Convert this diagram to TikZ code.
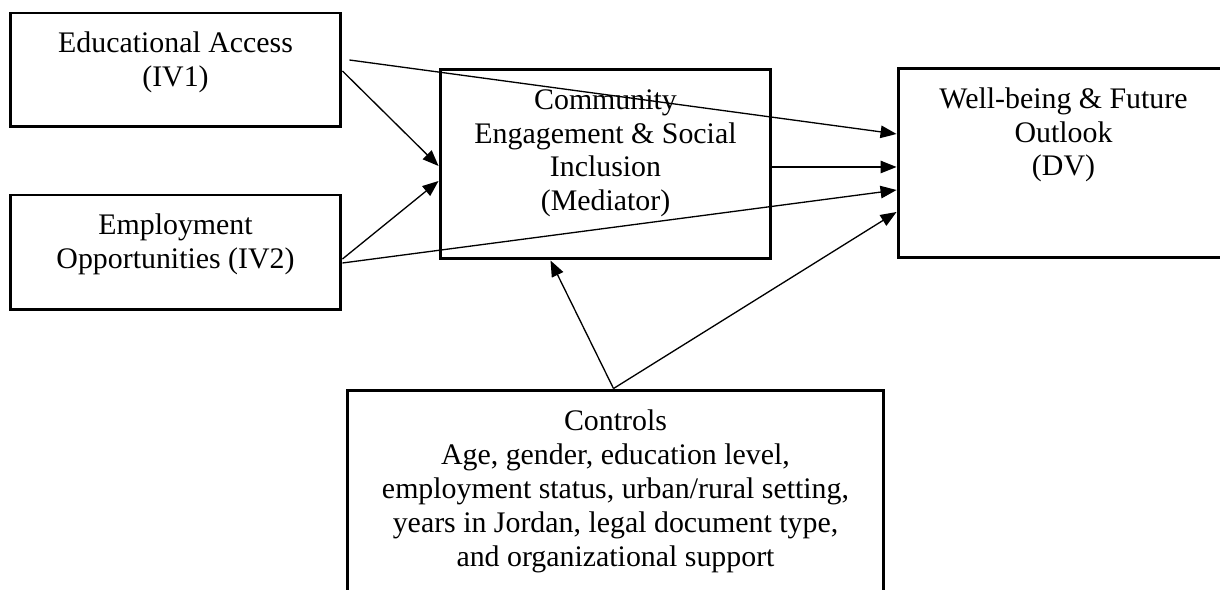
\documentclass[tikz,border=0pt]{standalone}
\usepackage{fontspec}
\setmainfont{Liberation Serif}
\usetikzlibrary{arrows.meta}
\tikzset{
    block/.style = { draw, line width=1.7pt, inner sep=0pt, font=\fontsize{17}{19.35}\selectfont },
    link/.style = { line width=0.75pt, -{Triangle[length=0.32cm, width=0.25cm]} }
}
% text sits at the top of each box, first baseline 0.8cm below the border
\newcommand{\blocktext}[3]{\parbox[c][#2][t]{#1}{\centering\rule{0pt}{0.8cm}#3}}

\begin{document}
\begin{tikzpicture}[
    x = 0.02cm, y = -0.02cm,
    block/.style = { draw, line width=1.7pt, inner sep=0pt, font=\fontsize{17}{19.35}\selectfont },
    link/.style = { line width=0.75pt, -{Triangle[length=0.32cm, width=0.25cm]} }
    ]
    %%% Units are pixels of the 1220 x 590 page, y running down.
    \useasboundingbox (0,0) rectangle (1220,590);

    %%%
    %%% Boxes
    %%%
    % Independent variables
    \node[block] (ivone) at (175.5,70)    {\blocktext{6.62cm}{2.28cm}{Educational Access\\(IV1)}};
    \node[block] (ivtwo) at (175.5,252.5) {\blocktext{6.62cm}{2.3cm}{Employment\\Opportunities (IV2)}};
    % Mediator and outcome
    \node[block] (med) at (605.5,164)  {\blocktext{6.62cm}{3.8cm}{Community\\Engagement \& Social\\Inclusion\\(Mediator)}};
    \node[block] (dv)  at (1063.5,163) {\blocktext{6.62cm}{3.8cm}{Well-being \& Future\\Outlook\\(DV)}};
    % Controls (runs off the bottom of the page)
    \node[block] (ctrl) at (615.5,515) {\blocktext{10.74cm}{5cm}{Controls\\Age, gender, education level,\\employment status, urban/rural setting,\\years in Jordan, legal document type,\\and organizational support}};

    %%%
    %%% Paths
    %%%
    % From IV1
    \draw[link] ([shift={(7,-10)}]ivone.east) -- ([shift={(0,-29)}]dv.west);
    \draw[link] ([shift={(0,1)}]ivone.east)   -- ([shift={(0,2)}]med.west);
    % From IV2
    \draw[link] ([shift={(0,6.5)}]ivtwo.east)  -- ([shift={(0,17)}]med.west);
    \draw[link] ([shift={(0,10.5)}]ivtwo.east) -- ([shift={(0,27)}]dv.west);
    % Mediator to DV
    \draw[link] ([shift={(0,3)}]med.east) -- ([shift={(0,4)}]dv.west);
    % Controls
    \coordinate (ctrltop) at ([shift={(-2,0)}]ctrl.north);
    \draw[link] (ctrltop) -- ([shift={(-55,0)}]med.south);
    \draw[link] (ctrltop) -- ([shift={(0,49)}]dv.west);
\end{tikzpicture}
\end{document}
